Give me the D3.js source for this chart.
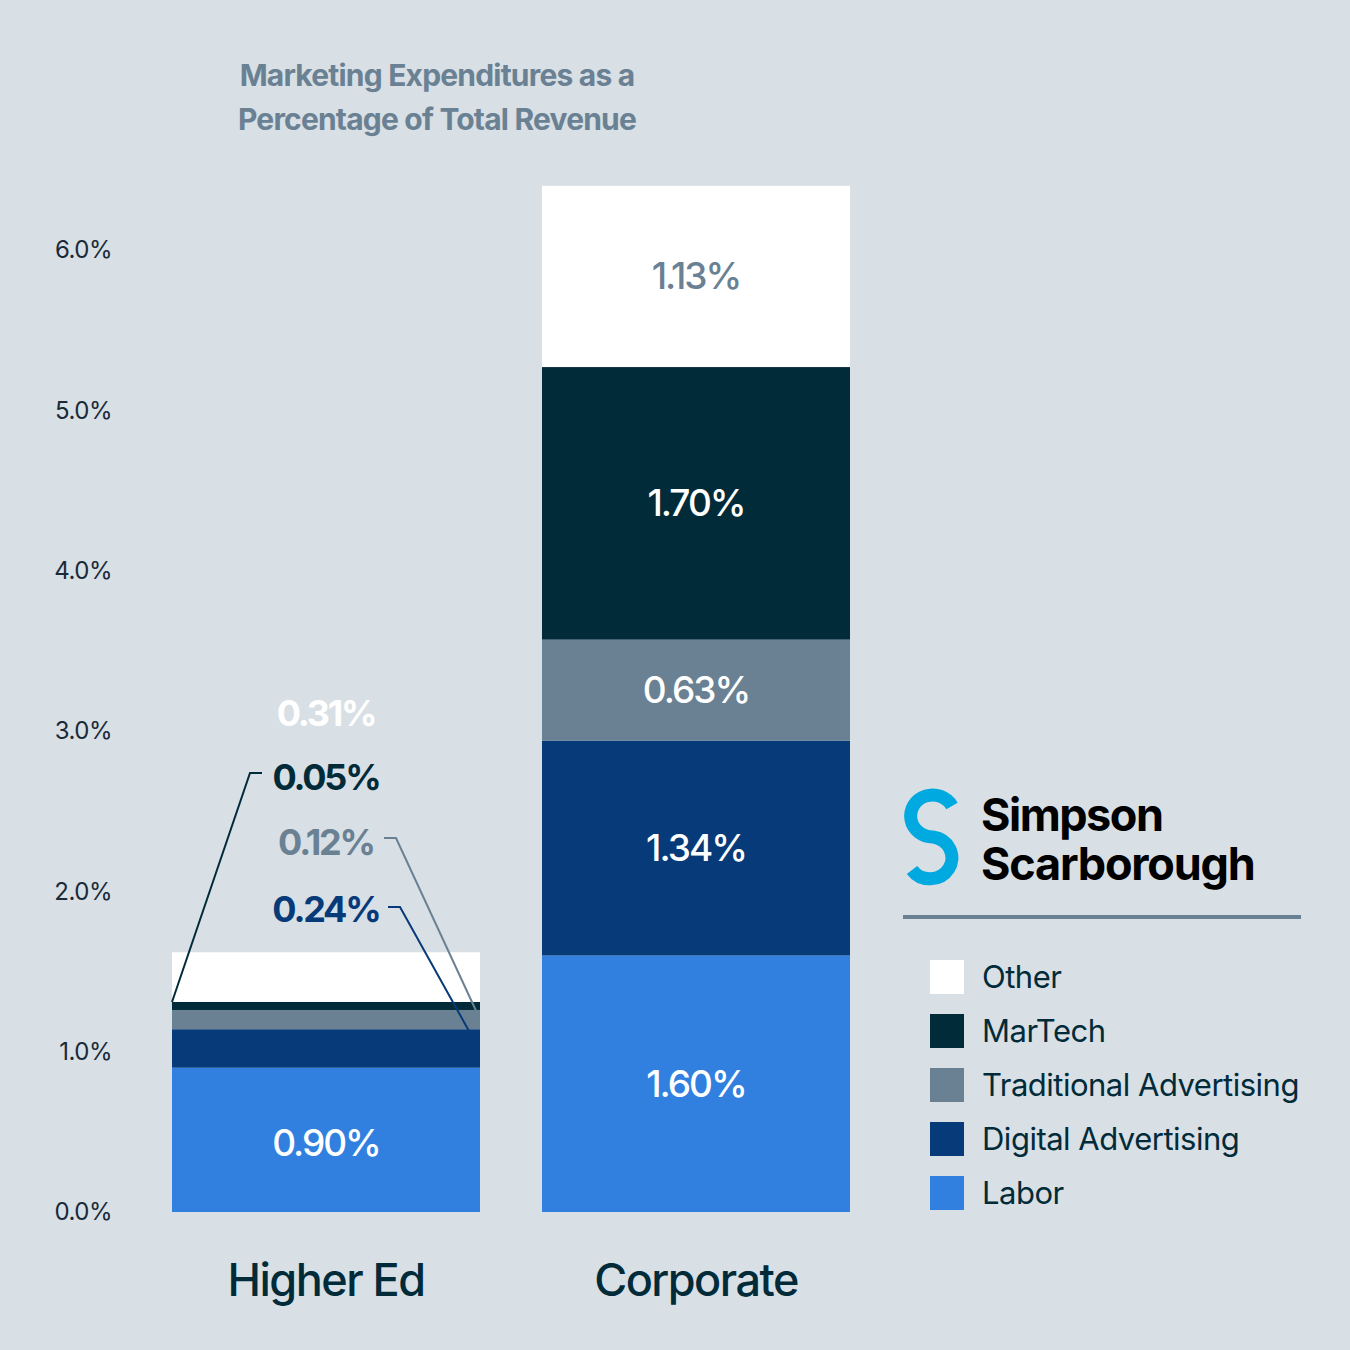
<!DOCTYPE html>
<html><head><meta charset="utf-8">
<script src="https://cdn.jsdelivr.net/npm/d3@7"></script>
<style>body{margin:0;background:#d8dfe5}text{font-family:Inter,"Liberation Sans",sans-serif}</style>
</head><body><svg id="c" width="1350" height="1350"></svg>
<script>
const categories=["Higher Ed","Corporate"];
const seriesNames=["Labor","Digital Advertising","Traditional Advertising","MarTech","Other"];
const higherEd=[0.90,0.24,0.12,0.05,0.31];
const corporate=[1.60,1.34,0.63,1.70,1.13];
const tickValues=[0,1,2,3,4,5,6];
const colors=["#3180e0","#063a78","#6a8193","#022b3a","#ffffff"];
const corpLabelColors=["#fff","#fff","#fff","#fff","#6a8193"];

const svg=d3.select("#c");
svg.append("rect").attr("width",1350).attr("height",1350).attr("fill","#d8dfe5");
const y=d3.scaleLinear().domain([0,6]).range([1212,250]);
const x=d3.scaleBand().domain(categories).range([172,850]).paddingInner(62/370).paddingOuter(0);

const tAttrs=s=>s.attr("text-anchor","middle").attr("fill","#6a8193").attr("font-size",30).attr("font-weight",700).attr("letter-spacing",-0.8);
svg.append("text").attr("x",437).attr("y",86).call(tAttrs).text("Marketing Expenditures as a");
svg.append("text").attr("x",437).attr("y",130).call(tAttrs).text("Percentage of Total Revenue");

const ax=svg.append("g").attr("transform","translate(112,0)").call(d3.axisLeft(y).tickValues(tickValues).tickFormat(d=>d3.format(".1f")(d)+"%").tickSize(0));
ax.select(".domain").remove();
ax.selectAll("text").attr("font-size",24).attr("fill","#1a2a38").attr("font-family","Inter,sans-serif").attr("x",0).attr("letter-spacing",-0.5);

const data=[higherEd,corporate];
data.forEach((vals,ci)=>{
  const stack=[];let acc=0;
  vals.forEach((v,i)=>{stack.push([acc,acc+v]);acc+=v;});
  svg.append("g").selectAll("rect").data(stack).join("rect")
   .attr("x",x(categories[ci])).attr("width",x.bandwidth())
   .attr("y",d=>y(d[1])).attr("height",d=>y(d[0])-y(d[1]))
   .attr("fill",(d,i)=>colors[i]);
  svg.append("text").attr("x",x(categories[ci])+x.bandwidth()/2).attr("y",1296).attr("text-anchor","middle")
   .attr("font-size",45).attr("font-weight",500).attr("fill","#022b3a").attr("letter-spacing",-1.5).text(categories[ci]);
  if(ci===1){
    stack.forEach((d,i)=>{
      svg.append("text").attr("x",x(categories[ci])+x.bandwidth()/2).attr("y",(y(d[0])+y(d[1]))/2+13)
       .attr("text-anchor","middle").attr("font-size",37).attr("font-weight",500).attr("fill",corpLabelColors[i]).attr("letter-spacing",-2)
       .text(vals[i].toFixed(2)+"%");
    });
  } else {
    const cx=x(categories[0])+x.bandwidth()/2, x0=x(categories[0]), x1=x0+x.bandwidth();
    svg.append("text").attr("x",cx).attr("y",1156).attr("text-anchor","middle").attr("font-size",37).attr("font-weight",500)
      .attr("fill","#fff").attr("letter-spacing",-2).text(vals[0].toFixed(2)+"%");
    const labs=[{i:4,y:726,c:"#ffffff"},{i:3,y:790,c:"#022b3a"},{i:2,y:855,c:"#6a8193"},{i:1,y:922,c:"#063a78"}];
    labs.forEach(l=>svg.append("text").attr("x",cx).attr("y",l.y).attr("text-anchor","middle").attr("font-size",36)
      .attr("font-weight",700).attr("fill",l.c).attr("letter-spacing",-2.2).text(vals[l.i].toFixed(2)+"%"));
    const line=d3.line();
    svg.append("path").attr("d",line([[262,773],[250,773],[x0,y(stack[3][1])]])).attr("stroke","#022b3a").attr("stroke-width",2).attr("fill","none");
    svg.append("path").attr("d",line([[384,838],[396,838],[x1-2,y(stack[2][1])+5]])).attr("stroke","#6a8193").attr("stroke-width",2).attr("fill","none");
    svg.append("path").attr("d",line([[388,907],[400,907],[x1-2,y(stack[1][1])+18]])).attr("stroke","#063a78").attr("stroke-width",2).attr("fill","none");
  }
});

// logo
svg.append("path").attr("d","M 952,806 A22,21 0 1 0 933,837 A22,21 0 1 1 912,870").attr("stroke","#00a9e0").attr("stroke-width",13).attr("fill","none");
svg.append("text").attr("x",981).attr("y",831).attr("font-size",45).attr("font-weight",700).attr("fill","#000").attr("letter-spacing",-1.5).text("Simpson");
svg.append("text").attr("x",981).attr("y",880).attr("font-size",45).attr("font-weight",700).attr("fill","#000").attr("letter-spacing",-1.2).text("Scarborough");
svg.append("rect").attr("x",903).attr("y",915).attr("width",398).attr("height",4).attr("fill","#6a8193");

const leg=[...seriesNames].reverse();
leg.forEach((n,i)=>{
  const yy=960+i*54;
  svg.append("rect").attr("x",930).attr("y",yy).attr("width",34).attr("height",34).attr("fill",colors[4-i]);
  svg.append("text").attr("x",982).attr("y",yy+28).attr("font-size",31).attr("fill","#022b3a").attr("letter-spacing",-0.5).text(n);
});
</script></body></html>
